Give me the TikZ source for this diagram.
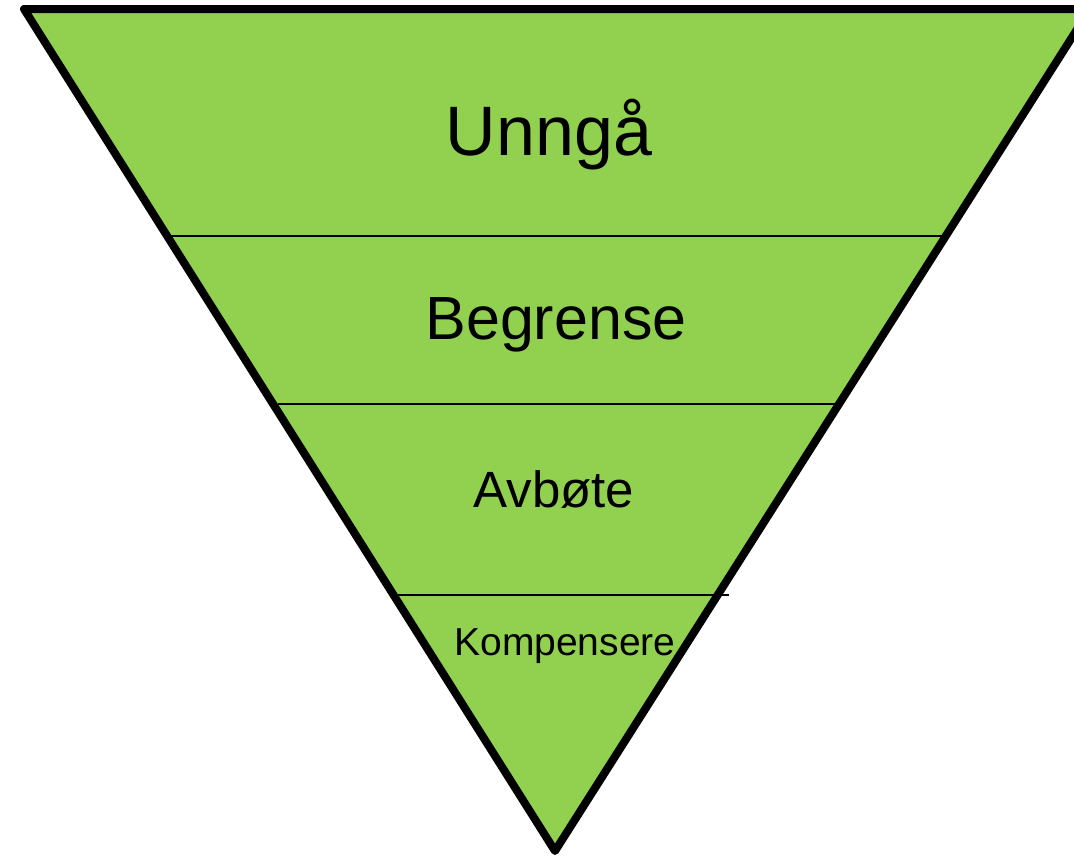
\documentclass[tikz,border=0pt]{standalone}
\usepackage{fontspec}
\setmainfont{Liberation Sans}
\definecolor{tgreen}{RGB}{146,208,80}
\tikzset{
  lbl/.style={anchor=base, inner sep=0pt, text=black},
  divider/.style={draw=black, line width=2.6pt},
  tri/.style={draw=black, fill=tgreen, line width=8pt, line join=round}
}
\begin{document}
\begin{tikzpicture}[x=1pt,y=-1pt]
\useasboundingbox (0,0) rectangle (1074,860);
\coordinate (tl) at (24,9);
\coordinate (tr) at (1090,9);
\coordinate (ap) at (555,851);
\path[tri] (tl) -- (tr) -- (ap) -- cycle;
\coordinate (l1) at (166,236); \coordinate (r1) at (942,236);
\coordinate (l2) at (278,404); \coordinate (r2) at (837,404);
\coordinate (l3) at (397,595); \coordinate (r3) at (729,595);
\draw[divider] (l1) -- (r1);
\draw[divider] (l2) -- (r2);
\draw[divider] (l3) -- (r3);
\node[lbl, font=\fontsize{70}{84}\selectfont] (unnga) at (549,155) {Unngå};
\node[lbl, font=\fontsize{61}{73}\selectfont] (begrense) at (556,339) {Begrense};
\node[lbl, font=\fontsize{51}{61}\selectfont] (avbote) at (554,507) {Avbøte};
\node[lbl, font=\fontsize{39}{47}\selectfont] (komp) at (565,655) {Kompensere};
\end{tikzpicture}
\end{document}
